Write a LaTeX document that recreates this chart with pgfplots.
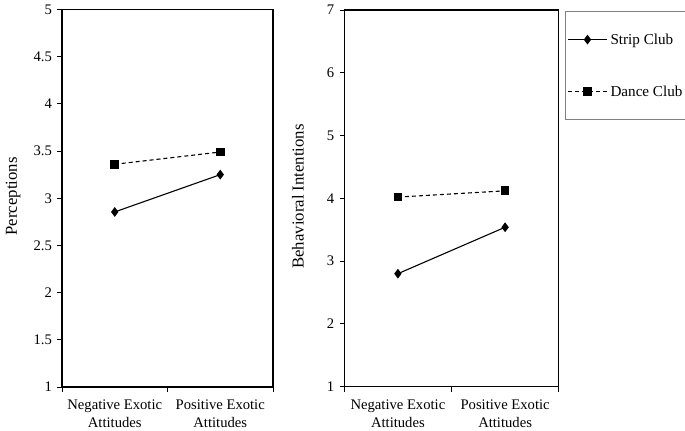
\documentclass[border=0pt]{standalone}
\usepackage{pgfplots}
\pgfplotsset{compat=1.18}
\usepackage{fontspec}
\setmainfont{Liberation Serif}
\newcommand{\tf}{\fontsize{14.7}{18}\selectfont}
\newcommand{\lf}{\fontsize{16.8}{19}\selectfont}
\newcommand{\gf}{\fontsize{15.2}{18}\selectfont}
\begin{document}
\begin{tikzpicture}[x=1bp,y=1bp]
\path[use as bounding box] (0bp,0bp) rectangle (685bp,431bp);
\pgfplotsset{
  common/.style={
    scale only axis, anchor=south west, at={(0bp,0bp)},
    /pgf/number format/assume math mode=true,
    tick label style={font=\tf},
    label style={font=\lf},
    axis line style={line width=1.1bp},
    xmin=0, xmax=2, xtick={0.5,1.5}, minor xtick={0,1,2},
    xticklabels={{Negative Exotic\\Attitudes},{Positive Exotic\\Attitudes}},
    xticklabel style={align=center, yshift=-5bp},
    yticklabel style={xshift=-2bp},
    major x tick style={draw=none},
    minor x tick style={black, line width=1bp},
    y tick style={black, line width=1bp},
    tick align=outside, major tick length=4.5bp, minor tick length=5bp,
    xtick pos=left, ytick pos=left,
    legend cell align=left,
    legend image code/.code={\draw[mark repeat=2,mark phase=2,##1] plot coordinates {(0bp,0bp) (19.5bp,0bp) (39bp,0bp)};},
  },
  sc/.style={black, line width=1.1bp, mark=diamond*, mark size=4bp},
  dc/.style={black, line width=1.1bp, dash pattern=on 4bp off 3bp, mark=square*, mark size=3.8bp, mark options={solid}},
}
\begin{scope}[shift={(62bp,44bp)}]
\begin{axis}[common, width=211bp, height=377.5bp,
  ymin=1, ymax=5, ytick={1,1.5,...,5},
  ylabel={Perceptions},
  ylabel style={at={(axis description cs:-0.232,0.505)}, anchor=center}]
\addplot[sc] coordinates {(0.5,2.855) (1.5,3.25)};
\addplot[dc] coordinates {(0.5,3.36) (1.5,3.49)};
\end{axis}
\end{scope}
\begin{scope}[shift={(344.3bp,44.3bp)}]
\begin{axis}[common, width=214.4bp, height=376.7bp,
  ymin=1, ymax=7, ytick={1,...,7},
  ylabel={Behavioral Intentions},
  ylabel style={at={(axis description cs:-0.216,0.505)}, anchor=center},
  legend style={at={(axis description cs:1.029,0.997)}, anchor=north west,
    draw=gray, line width=1bp, inner ysep=20bp, inner xsep=2bp, row sep=36bp,
    font=\gf, nodes={inner xsep=3bp}}]
\addplot[sc] coordinates {(0.5,2.8) (1.5,3.54)};
\addlegendentry{\makebox[100bp][l]{Strip Club}}
\addplot[dc] coordinates {(0.5,4.02) (1.5,4.12)};
\addlegendentry{\makebox[100bp][l]{Dance Club}}
\end{axis}
\end{scope}
\end{tikzpicture}
\end{document}
